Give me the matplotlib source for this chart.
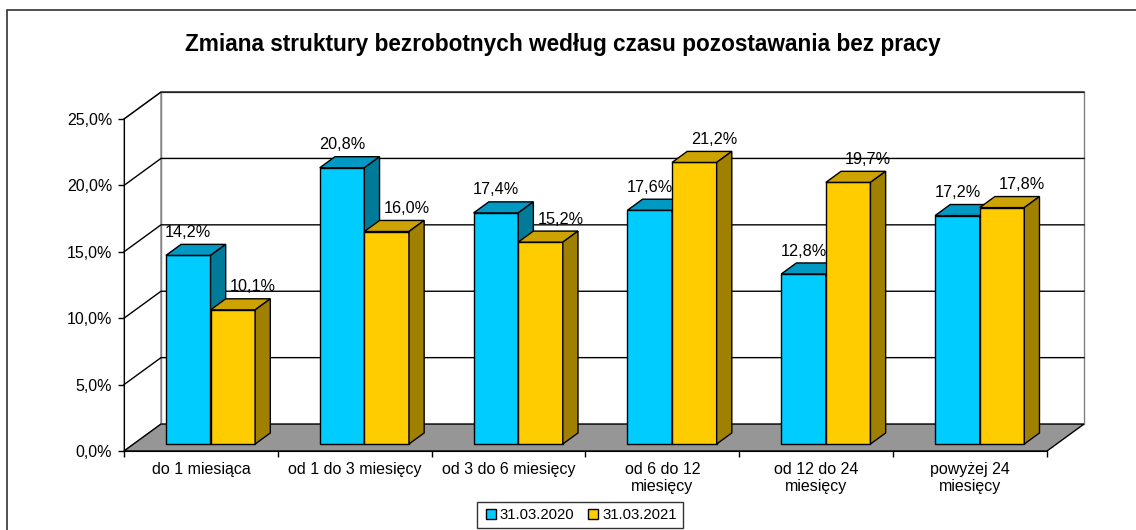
import matplotlib
matplotlib.use("Agg")
import matplotlib.pyplot as plt
from matplotlib.patches import Polygon, Rectangle
from matplotlib.lines import Line2D

plt.rcParams['font.family'] = ['Liberation Sans', 'DejaVu Sans']

# --- data ---
categories = ["do 1 miesiąca", "od 1 do 3 miesięcy", "od 3 do 6 miesięcy",
              "od 6 do 12\nmiesięcy", "od 12 do 24\nmiesięcy", "powyżej 24\nmiesięcy"]
series_names = ["31.03.2020", "31.03.2021"]
values_2020 = [14.2, 20.8, 17.4, 17.6, 12.8, 17.2]
values_2021 = [10.1, 16.0, 15.2, 21.2, 19.7, 17.8]
y_ticks = [0, 5, 10, 15, 20, 25]

# colours: front, top, side
colors = [("#00CCFF", "#0099C4", "#007A99"),
          ("#FFCC00", "#CCA300", "#9F8000")]

# 3D look: depth offset in data units
DX = 0.2405   # categories
DY = 2.03     # percent
d0, d1 = 0.26, 0.67   # depth range of the bars
bar_w = 0.29
label_shift = [0.0, 0.13]


def P(x, y, d):
    return (x + d * DX, y + d * DY)


fig = plt.figure(figsize=(11.36, 5.30), dpi=100)
ax = fig.add_axes([124 / 1136, 1 - 451 / 530, 923 / 1136, 332 / 530])
n = len(categories)
ymax = y_ticks[-1]
ax.set_xlim(0, n)
ax.set_ylim(0, ymax)


def poly(pts, fc, ec, lw=1.0, z=1):
    p = Polygon(pts, closed=True, facecolor=fc, edgecolor=ec, lw=lw,
                clip_on=False, zorder=z, joinstyle='miter')
    ax.add_patch(p)


# back wall
poly([P(0, 0, 1), P(n, 0, 1), P(n, ymax, 1), P(0, ymax, 1)], "white", "#808080", z=0.5)
# left wall
poly([P(0, 0, 0), P(0, 0, 1), P(0, ymax, 1), P(0, ymax, 0)], "white", "#808080", z=0.5)
# grid lines on back and left walls
for yv in y_ticks[1:]:
    xs, ys = zip(P(0, yv, 0), P(0, yv, 1), P(n, yv, 1))
    ax.plot(xs, ys, color="black", lw=1.0, clip_on=False, zorder=0.8)
# floor
poly([P(0, 0, 0), P(n, 0, 0), P(n, 0, 1), P(0, 0, 1)], "#969696", "black", z=0.9)

# bars
for i in range(n):
    for s, vals in enumerate([values_2020, values_2021]):
        v = vals[i]
        x0 = i + 0.5 - bar_w + s * bar_w
        x1 = x0 + bar_w
        fc, tc, sc = colors[s]
        poly([P(x0, 0, d0), P(x1, 0, d0), P(x1, v, d0), P(x0, v, d0)], fc, "black", z=2)
        poly([P(x0, v, d0), P(x1, v, d0), P(x1, v, d1), P(x0, v, d1)], tc, "black", z=2)
        poly([P(x1, 0, d0), P(x1, 0, d1), P(x1, v, d1), P(x1, v, d0)], sc, "black", z=2)
        lx, _ = P(x0 + bar_w / 2 + label_shift[s], v, d0)
        _, ly = P(0, v, d1)
        ax.text(lx, ly + 0.9, f"{v:.1f}%".replace(".", ","), ha="center", va="center",
                fontsize=11.7, zorder=5)

# axes styling
for side in ["top", "right"]:
    ax.spines[side].set_visible(False)
ax.spines["left"].set_zorder(3)
ax.spines["bottom"].set_zorder(3)
ax.patch.set_visible(False)
ax.set_yticks(y_ticks)
ax.set_yticklabels([f"{t:.1f}%".replace(".", ",") for t in y_ticks], fontsize=11.5)
ax.set_xticks(range(n + 1))
ax.set_xticklabels([])
ax.set_xticks([i + 0.5 for i in range(n)], minor=True)
ax.set_xticklabels(categories, minor=True, fontsize=11.5, linespacing=1.15)
ax.tick_params(axis="x", which="minor", length=0, pad=8)
ax.tick_params(axis="both", which="major", length=4.5, width=1, color="black")
ax.tick_params(axis="y", pad=4)

# title
fig.text(563 / 1136, 1 - 44 / 530, "Zmiana struktury bezrobotnych według czasu pozostawania bez pracy",
         ha="center", va="center", fontsize=16.3, fontweight="bold")

# legend
handles = [Line2D([], [], ls="none", marker="s", markersize=7, markerfacecolor=c[0],
                  markeredgecolor="black", markeredgewidth=1) for c in colors]
leg = fig.legend(handles, series_names, loc="upper center", ncol=2,
                 bbox_to_anchor=(580 / 1136, 1 - 502 / 530), frameon=True, fancybox=False,
                 edgecolor="black", fontsize=10.7, handletextpad=0.1, columnspacing=0.8,
                 handlelength=1.0, borderpad=0.4, borderaxespad=0)
leg.get_frame().set_linewidth(1.0)

# outer chart border
fig.add_artist(Rectangle((7 / 1136, -0.1), 1.2, 1 - 10 / 530 + 0.1, transform=fig.transFigure,
                         fill=False, edgecolor="#333333", lw=1.2))

fig.savefig("out.png", dpi=100)
